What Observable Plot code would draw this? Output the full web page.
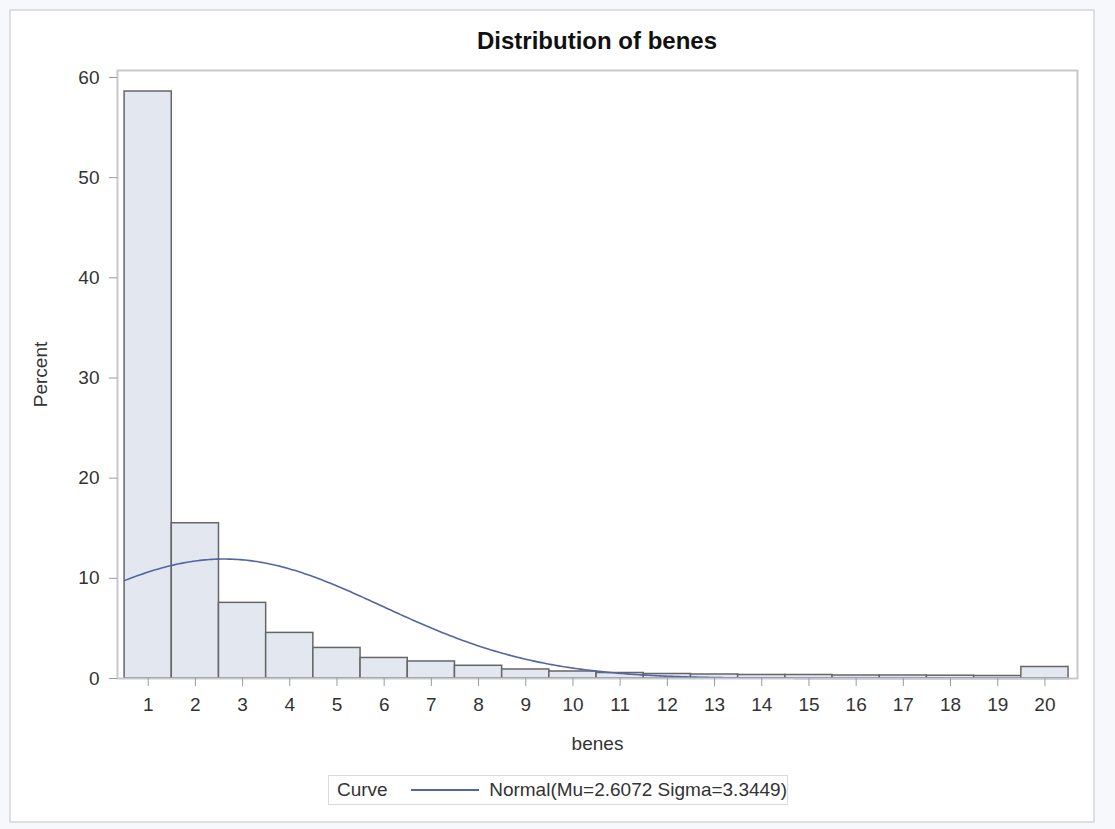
<!DOCTYPE html>
<html>
<head>
<meta charset="utf-8">
<script src="https://cdn.jsdelivr.net/npm/d3@7"></script>
<script src="https://cdn.jsdelivr.net/npm/@observablehq/plot@0.6"></script>
<style>
  html, body { margin: 0; padding: 0; background: #f7f8fc; }
  #page { position: relative; width: 1115px; height: 829px; font-family: "Liberation Sans", Arial, sans-serif; }
  #panel { position: absolute; left: 9px; top: 9px; width: 1082px; height: 810px; background: #fff; border: 2px solid #dedfe2; }
  #chart { position: absolute; left: 0; top: 0; }
  #title { position: absolute; left: 117px; width: 960px; top: 29px; line-height: 24px; text-align: center;
           font-weight: bold; font-size: 24px; color: #111; }
  #legend { position: absolute; left: 328px; top: 775px; width: 460px; height: 30px; box-sizing: border-box;
            border: 1.5px solid #d9dadd; background: #fff; display: flex; align-items: center;
            font-size: 19px; color: #333; white-space: nowrap; }
  #legend .head { margin-left: 8px; width: 78px; }
  #legend .swatch { width: 71px; height: 0; border-top: 2px solid #5366a0; margin-right: 10px; }
</style>
</head>
<body>
<div id="page">
  <div id="panel"></div>
  <div id="chart"></div>
  <div id="title">Distribution of benes</div>
  <div id="legend"><span class="head">Curve</span><span class="swatch"></span><span id="fitLabel"></span></div>
</div>
<script>
// benes value for each histogram bin (bin width 1)
const benes = [1, 2, 3, 4, 5, 6, 7, 8, 9, 10, 11, 12, 13, 14, 15, 16, 17, 18, 19, 20];
// percent of observations in each bin
const percent = [58.6, 15.5, 7.55, 4.55, 3.05, 2.05, 1.7, 1.27, 0.9, 0.7,
                 0.55, 0.45, 0.4, 0.35, 0.35, 0.3, 0.3, 0.28, 0.25, 1.15];
// fitted normal curve parameters
const mu = 2.6072;
const sigma = 3.3449;
const binWidth = 1;
const percentTicks = [0, 10, 20, 30, 40, 50, 60];

const bins = benes.map((v, i) => ({v, pct: percent[i]}));

// normal density scaled to percent per bin
const density = x => 100 * binWidth * Math.exp(-0.5 * ((x - mu) / sigma) ** 2) / (sigma * Math.sqrt(2 * Math.PI));
const curve = d3.range(0.5, 20.5001, 0.05).map(x => ({x, y: density(x)}));

document.getElementById("fitLabel").textContent =
  `Normal(Mu=${mu.toFixed(4)} Sigma=${sigma.toFixed(4)})`;

const chart = Plot.plot({
  width: 1115,
  height: 829,
  marginLeft: 117,
  marginRight: 38,
  marginTop: 70,
  marginBottom: 151,
  style: {fontFamily: '"Liberation Sans", Arial, sans-serif', fontSize: "19px", color: "#333", background: "transparent", overflow: "visible"},
  x: {domain: [0.35, 20.69]},
  y: {domain: [0, 60.7]},
  marks: [
    Plot.rectY(bins, {x1: d => d.v - 0.5, x2: d => d.v + 0.5, y: "pct", fill: "#e3e7f0", stroke: "#666", strokeWidth: 1.5}),
    Plot.line(curve, {x: "x", y: "y", stroke: "#5366a0", strokeWidth: 1.6}),
    Plot.frame({stroke: "#c7c9cc", strokeWidth: 2}),
    Plot.axisY({ticks: percentTicks, tickSize: 8, tickPadding: 10, stroke: "#9a9a9a",
                label: "Percent", labelAnchor: "center", labelArrow: "none", labelOffset: 84}),
    Plot.axisX({ticks: benes, tickFormat: d => String(d), tickSize: 8, tickPadding: 11, stroke: "#9a9a9a",
                label: "benes", labelAnchor: "center", labelArrow: "none", labelOffset: 71})
  ]
});
document.getElementById("chart").append(chart);
</script>
</body>
</html>
